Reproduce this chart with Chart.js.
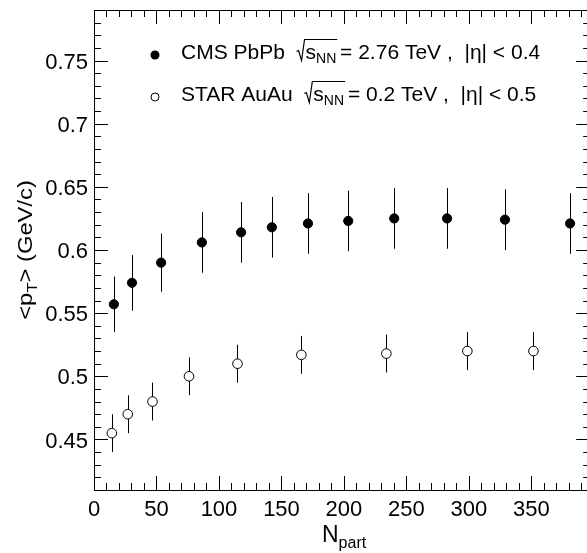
<!DOCTYPE html>
<html><head><meta charset="utf-8">
<script src="https://cdn.jsdelivr.net/npm/chart.js@4.4.0/dist/chart.umd.min.js"></script>
<style>html,body{margin:0;padding:0;overflow:hidden;background:#fff;width:587px;height:553px}
#wrap{width:596px;height:553px;position:relative}</style></head>
<body><div id="wrap"><canvas id="c" width="596" height="553"></canvas></div>
<script>
const cmsNpart  = [15.9, 30.4, 53.7, 86.3, 117.7, 142.3, 171.2, 203.4, 240.2, 282.5, 328.8, 380.9];
const cmsMeanPt = [0.557, 0.574, 0.590, 0.606, 0.614, 0.618, 0.621, 0.623, 0.625, 0.625, 0.624, 0.621];
const cmsErr    = [0.022, 0.022, 0.023, 0.024, 0.024, 0.024, 0.024, 0.024, 0.024, 0.024, 0.024, 0.024];
const starNpart  = [14.3, 27.0, 46.8, 76.0, 114.8, 165.9, 233.9, 298.7, 351.6];
const starMeanPt = [0.455, 0.470, 0.480, 0.500, 0.510, 0.517, 0.518, 0.520, 0.520];
const starErr    = [0.015, 0.015, 0.015, 0.015, 0.015, 0.015, 0.015, 0.015, 0.015];
const xTicks = [0, 50, 100, 150, 200, 250, 300, 350];
const yTicks = [0.45, 0.5, 0.55, 0.6, 0.65, 0.7, 0.75];
const xRange = [0, 397];
const yRange = [0.41, 0.79];

const FONT = '"Liberation Sans", Arial, sans-serif';
const FS = 21;
const TICK_FS = 22;

function toPts(xs, ys){ return xs.map((x,i)=>({x:x, y:ys[i]})); }

const frameTicks = {
  id:'frameTicks',
  afterDraw(chart){
    const {ctx, chartArea:a, scales:{x, y}} = chart;
    ctx.save();
    ctx.strokeStyle = '#000'; ctx.lineWidth = 1;
    ctx.beginPath();
    for (let v = xRange[0]; v <= xRange[1]; v += 10) {
      const px = Math.round(x.getPixelForValue(v)) + 0.5;
      const len = (v % 50 === 0) ? 14 : 7;
      ctx.moveTo(px, a.bottom); ctx.lineTo(px, a.bottom - len);
      ctx.moveTo(px, a.top); ctx.lineTo(px, a.top + len);
    }
    for (let i = 41; i <= 79; i++) {
      const py = Math.round(y.getPixelForValue(i/100)) + 0.5;
      const len = (i % 5 === 0) ? 14 : 7;
      ctx.moveTo(a.left, py); ctx.lineTo(a.left + len, py);
      ctx.moveTo(a.right, py); ctx.lineTo(a.right - len, py);
    }
    ctx.stroke();
    ctx.strokeRect(Math.round(a.left)+0.5, Math.round(a.top)+0.5, Math.round(a.right-a.left), Math.round(a.bottom-a.top));
    ctx.restore();

    // y title
    ctx.save();
    ctx.fillStyle = '#000';
    ctx.translate(32, 250);
    ctx.rotate(-Math.PI/2);
    ctx.scale(1.13, 1);
    const p1 = '<p', p3 = '> (GeV/c)';
    ctx.font = '15px ' + FONT;
    const wT = ctx.measureText('T').width;
    ctx.font = FS + 'px ' + FONT;
    const w1 = ctx.measureText(p1).width, w3 = ctx.measureText(p3).width;
    let sx = -(w1 + wT + w3)/2;
    ctx.fillText(p1, sx, 0);
    ctx.font = '15px ' + FONT;
    ctx.fillText('T', sx + w1, 5);
    ctx.font = FS + 'px ' + FONT;
    ctx.fillText(p3, sx + w1 + wT, 0);
    ctx.restore();

    // x title
    ctx.save();
    ctx.fillStyle = '#000';
    ctx.font = '23px ' + FONT;
    ctx.fillText('N', 322, 542);
    const wN = ctx.measureText('N').width;
    ctx.font = '16px ' + FONT;
    ctx.fillText('part', 322 + wN, 548);
    ctx.restore();

    // legend
    drawLegendLine(ctx, 55, true, 'CMS PbPb', '2.76', '0.4');
    drawLegendLine(ctx, 97, false, 'STAR AuAu', '0.2', '0.5');
  },
  beforeDatasetsDraw(chart){
    const {ctx, scales:{x, y}} = chart;
    ctx.save();
    ctx.strokeStyle = '#000'; ctx.lineWidth = 1;
    ctx.beginPath();
    const draw = (xs, ys, es) => xs.forEach((v,i)=>{
      const px = Math.round(x.getPixelForValue(v)) + 0.5;
      ctx.moveTo(px, y.getPixelForValue(ys[i]+es[i]));
      ctx.lineTo(px, y.getPixelForValue(ys[i]-es[i]));
    });
    draw(cmsNpart, cmsMeanPt, cmsErr);
    draw(starNpart, starMeanPt, starErr);
    ctx.stroke();
    ctx.restore();
  }
};

function drawLegendLine(ctx, yc, filled, name, energy, eta){
  ctx.save();
  ctx.beginPath();
  ctx.arc(155, yc, filled ? 4.5 : 4.0, 0, Math.PI*2);
  if (filled) { ctx.fillStyle = '#000'; ctx.fill(); }
  else { ctx.fillStyle = '#fff'; ctx.fill(); ctx.strokeStyle = '#000'; ctx.lineWidth = 1; ctx.stroke(); }
  ctx.fillStyle = '#000';
  const base = yc + 3.5;
  ctx.font = FS + 'px ' + FONT;
  let xx = 181;
  ctx.fillText(name, xx, base);
  xx += ctx.measureText(name + '  ').width;
  const rx = xx;
  ctx.strokeStyle = '#000'; ctx.lineWidth = 1.2;
  ctx.beginPath();
  ctx.moveTo(rx, base - 7);
  ctx.lineTo(rx + 2, base - 8);
  ctx.lineTo(rx + 5, base + 2);
  ctx.lineTo(rx + 8, base - 19);
  xx = rx + 9;
  ctx.font = FS + 'px ' + FONT;
  ctx.fillText('s', xx, base);
  xx += ctx.measureText('s').width;
  ctx.font = '14px ' + FONT;
  ctx.fillText('NN', xx, base + 4);
  xx += ctx.measureText('NN').width;
  ctx.lineTo(xx + 1, base - 19);
  ctx.stroke();
  ctx.font = FS + 'px ' + FONT;
  const rest = ' = ' + energy + ' TeV ,  |\u03b7| < ' + eta;
  ctx.fillText(rest, xx - 2, base);
  ctx.restore();
}

new Chart(document.getElementById('c'), {
  type: 'scatter',
  data: {
    datasets: [
      { label:'CMS PbPb', data: toPts(cmsNpart, cmsMeanPt), pointStyle:'circle', pointRadius:4.6,
        backgroundColor:'#000', borderColor:'#000', borderWidth:1, showLine:false },
      { label:'STAR AuAu', data: toPts(starNpart, starMeanPt), pointStyle:'circle', pointRadius:4.8,
        backgroundColor:'#fff', borderColor:'#000', borderWidth:1, showLine:false }
    ]
  },
  options: {
    responsive:false, animation:false, devicePixelRatio:1,
    layout:{ padding:{ top:10, right:2, left:0, bottom:0 } },
    plugins:{ legend:{display:false}, tooltip:{enabled:false} },
    scales:{
      x:{ type:'linear', min:xRange[0], max:xRange[1],
          afterBuildTicks: s => { s.ticks = xTicks.map(v=>({value:v})); },
          afterFit: s => { s.height = 63; s.paddingLeft = 0; s.paddingRight = 0; },
          grid:{ display:false, drawTicks:false }, border:{display:false},
          ticks:{ font:{family:FONT, size:TICK_FS}, color:'#000', padding:7, maxRotation:0, autoSkip:false } },
      y:{ type:'linear', min:yRange[0], max:yRange[1],
          afterBuildTicks: s => { s.ticks = yTicks.map(v=>({value:v})); },
          afterFit: s => { s.width = 94; s.paddingTop = 0; s.paddingBottom = 0; },
          grid:{ display:false, drawTicks:false }, border:{display:false},
          ticks:{ font:{family:FONT, size:TICK_FS}, color:'#000', padding:6, labelOffset:2, callback: v => String(v) } }
    }
  },
  plugins:[frameTicks]
});
</script></body></html>
